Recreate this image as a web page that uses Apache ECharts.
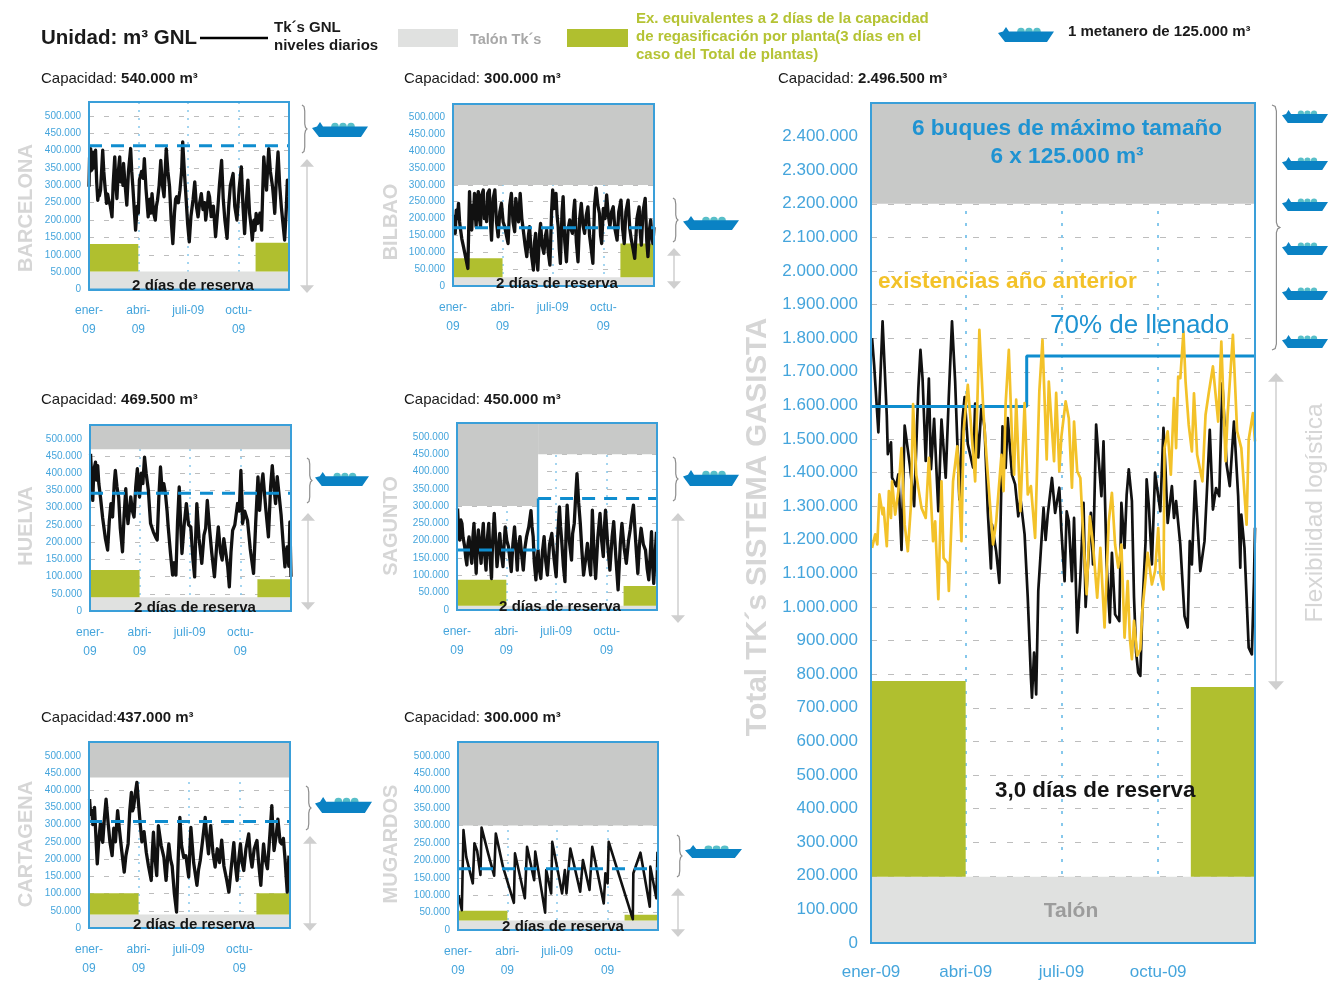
<!DOCTYPE html>
<html><head><meta charset="utf-8">
<style>html,body{margin:0;padding:0;background:#fff}#c{width:1328px;height:982px}</style>
<script src="https://cdn.jsdelivr.net/npm/echarts@6/dist/echarts.min.js"></script>
</head><body><div id="c"></div>
<script>
// All volumes in thousands of m3; x = day of the year 2009
const monthTicks = [0, 90, 181, 273];
const smallMonthLabels = ['ener-\n09', 'abri-\n09', 'juli-09', 'octu-\n09'];
const bigMonthLabels = ['ener-09', 'abri-09', 'juli-09', 'octu-09'];

const barcelonaLevels = [[0,296],[1,380],[2,340],[3,406],[4,350],[5,344],[7,395],[9,350],[12,401],[14,310],[16,257],[18,285],[19,270],[21,286],[23,340],[25,401],[27,340],[29,300],[32,248],[34,275],[36,257],[39,240],[42,209],[44,300],[47,382],[49,300],[51,262],[53,330],[56,382],[58,310],[60,334],[62,300],[63,363],[66,300],[69,243],[72,340],[76,406],[78,340],[80,296],[83,220],[85,171],[88,240],[90,220],[92,315],[96,340],[99,320],[101,377],[104,290],[108,209],[111,260],[113,220],[115,276],[118,220],[121,200],[123,240],[125,257],[128,300],[131,372],[134,300],[137,267],[139,340],[141,406],[144,340],[147,296],[150,200],[153,132],[156,220],[158,260],[160,267],[163,250],[166,286],[169,340],[171,425],[174,340],[177,267],[180,190],[183,137],[186,210],[190,260],[193,310],[196,240],[199,209],[202,250],[205,276],[208,230],[211,250],[213,200],[216,240],[218,280],[220,267],[223,210],[227,240],[231,152],[235,230],[238,300],[242,372],[245,260],[248,200],[252,147],[255,240],[258,300],[263,334],[266,240],[270,200],[274,290],[278,353],[281,240],[284,161],[287,250],[290,315],[293,220],[296,180],[298,142],[301,200],[303,170],[305,219],[308,190],[312,220],[315,171],[317,280],[319,382],[321,340],[324,286],[326,350],[328,406],[331,340],[335,296],[337,260],[339,219],[342,320],[345,396],[348,300],[351,238],[354,190],[357,142],[360,230],[362,315],[363,280],[364,267]];
const bilbaoLevels = [[1,212],[2,180],[4,156],[6,225],[8,200],[10,245],[12,190],[13,176],[16,140],[19,117],[23,85],[27,52],[30,280],[32,190],[34,166],[36,240],[37,200],[39,275],[41,200],[42,176],[44,260],[46,280],[48,200],[50,176],[52,270],[55,285],[57,200],[59,230],[61,191],[63,275],[66,285],[68,190],[70,136],[73,260],[76,285],[79,190],[82,146],[85,220],[88,245],[91,190],[94,176],[97,150],[100,126],[103,240],[106,275],[109,190],[112,161],[114,260],[116,255],[119,190],[122,275],[125,200],[128,161],[131,120],[134,87],[137,150],[139,176],[142,100],[146,47],[148,130],[150,156],[152,80],[154,47],[157,150],[159,186],[162,120],[165,97],[168,150],[170,166],[173,100],[176,62],[179,220],[181,285],[184,230],[187,275],[189,210],[191,176],[193,110],[195,67],[198,220],[200,265],[203,130],[206,72],[209,170],[212,196],[214,170],[217,156],[219,220],[221,255],[224,130],[227,72],[230,200],[233,245],[236,180],[239,156],[242,210],[245,235],[248,150],[251,110],[254,67],[257,240],[260,290],[263,240],[266,215],[268,150],[270,126],[273,230],[276,200],[279,270],[282,210],[285,176],[288,220],[291,235],[294,170],[298,136],[301,220],[305,255],[308,170],[311,126],[314,220],[318,255],[321,170],[324,136],[327,110],[330,82],[334,200],[338,235],[340,160],[342,121],[345,220],[349,260],[352,130],[354,87],[357,170],[359,196],[361,150],[363,126],[365,175]];
const huelvaLevels = [[1,456],[3,390],[5,321],[7,410],[10,432],[12,380],[14,422],[16,370],[19,331],[23,270],[28,210],[32,177],[35,260],[38,312],[40,280],[41,273],[44,370],[46,408],[49,360],[52,331],[55,240],[59,172],[62,280],[65,355],[67,290],[69,254],[72,300],[74,331],[77,290],[80,273],[83,360],[86,413],[88,360],[90,331],[93,400],[96,370],[99,447],[102,400],[106,350],[108,300],[110,254],[115,230],[119,215],[122,206],[125,330],[128,418],[131,350],[134,370],[137,341],[140,290],[142,244],[146,170],[150,104],[153,140],[156,104],[159,260],[162,360],[165,240],[167,167],[171,250],[175,312],[179,250],[183,244],[187,150],[190,99],[192,220],[194,312],[198,210],[203,138],[207,220],[210,240],[213,321],[217,240],[221,170],[226,99],[230,190],[233,244],[237,170],[240,148],[243,210],[246,215],[250,130],[253,70],[256,170],[259,234],[263,250],[268,312],[271,290],[274,408],[276,320],[277,254],[281,290],[286,263],[291,180],[297,109],[301,260],[305,389],[307,330],[308,292],[311,360],[314,398],[319,300],[324,215],[328,360],[331,422],[334,360],[337,312],[340,390],[343,393],[347,280],[351,190],[354,128],[356,170],[358,186],[361,130],[363,259],[365,99]];
const saguntoLevels = [[1,293],[3,230],[5,202],[7,260],[9,250],[11,210],[14,183],[16,150],[18,130],[20,190],[22,211],[25,160],[27,135],[29,210],[31,250],[33,170],[35,106],[37,190],[39,231],[42,170],[44,135],[46,210],[48,250],[50,170],[53,115],[55,200],[58,250],[60,160],[63,91],[65,200],[68,279],[71,190],[73,125],[76,180],[78,221],[81,160],[84,125],[86,190],[88,240],[91,200],[94,183],[97,140],[99,111],[102,190],[105,240],[108,170],[110,115],[112,180],[115,212],[118,160],[121,115],[124,180],[127,212],[131,240],[135,287],[137,240],[139,212],[141,140],[144,87],[146,140],[148,173],[150,120],[153,91],[156,170],[159,212],[162,140],[165,101],[169,190],[173,221],[177,150],[181,96],[184,220],[187,298],[189,240],[191,202],[194,130],[197,82],[199,220],[201,303],[205,200],[209,144],[211,220],[214,250],[217,340],[219,394],[222,310],[225,250],[228,170],[231,101],[235,150],[238,192],[241,140],[244,101],[246,220],[247,288],[250,170],[253,91],[257,210],[261,279],[264,200],[267,154],[269,240],[271,288],[275,190],[279,115],[283,210],[286,255],[290,150],[294,58],[298,190],[301,250],[305,180],[309,135],[313,200],[316,231],[319,270],[322,303],[326,200],[330,106],[333,190],[336,236],[340,190],[344,173],[347,120],[350,87],[353,170],[355,226],[357,130],[359,77],[362,170],[364,226]];
const cartagenaLevels = [[1,374],[3,330],[5,341],[7,300],[10,350],[13,250],[15,186],[18,260],[21,307],[23,260],[25,249],[28,320],[31,374],[35,300],[38,250],[42,210],[45,290],[48,250],[52,341],[55,290],[59,230],[64,162],[67,210],[71,244],[74,340],[77,394],[79,340],[81,350],[84,390],[87,423],[90,360],[93,302],[96,250],[100,280],[104,220],[108,180],[113,138],[115,220],[117,278],[120,200],[123,152],[125,240],[126,297],[131,240],[136,205],[138,170],[140,138],[143,210],[145,244],[148,200],[151,180],[155,100],[159,46],[162,200],[165,321],[168,240],[172,205],[176,210],[181,148],[183,220],[185,292],[190,190],[196,124],[199,170],[202,196],[206,250],[211,321],[214,260],[217,215],[219,260],[221,297],[225,220],[229,177],[233,230],[237,190],[241,255],[245,180],[250,140],[254,104],[258,170],[263,248],[266,180],[269,138],[272,200],[275,244],[278,190],[281,167],[285,230],[290,273],[293,210],[296,177],[300,230],[305,254],[308,190],[312,124],[315,200],[317,244],[320,200],[324,172],[328,260],[332,355],[334,280],[336,225],[340,270],[343,316],[347,250],[350,244],[353,260],[356,200],[358,150],[360,104],[362,170],[363,210]];
const mugardosLevels = [[1,100],[7,57],[10,287],[15,210],[27,134],[30,249],[35,227],[41,158],[43,294],[55,220],[66,156],[69,277],[82,182],[102,78],[104,220],[122,91],[126,239],[139,143],[141,225],[159,50],[161,172],[170,105],[172,253],[190,105],[195,172],[198,105],[205,234],[223,110],[228,201],[240,115],[245,239],[266,76],[269,163],[273,134],[275,253],[319,31],[320,163],[333,222],[350,67],[351,182],[362,91],[364,225]];
const totalLevels = [[1,1800],[3,1720],[7,1520],[9,1690],[11,1850],[15,1570],[16,1455],[19,1490],[20,1385],[24,1360],[26,1395],[29,1170],[32,1540],[37,1420],[41,1300],[45,1650],[47,1765],[49,1680],[52,1435],[55,1680],[57,1410],[60,1560],[64,1285],[67,1558],[71,1385],[74,1630],[77,1850],[80,1670],[84,1320],[87,1560],[89,1625],[92,1485],[97,1415],[99,1605],[102,1445],[105,1600],[108,1530],[111,1285],[114,1115],[115,1245],[119,1165],[120,1167],[122,1072],[125,1538],[128,1414],[130,1562],[134,1394],[137,1365],[140,1270],[142,1325],[146,1216],[149,1028],[152,790],[153,730],[155,864],[157,740],[159,1048],[161,1147],[164,1295],[166,1200],[168,1275],[172,1384],[175,1280],[179,1355],[181,1226],[184,1077],[186,1285],[188,1255],[191,1077],[193,1265],[196,924],[199,1087],[202,1310],[204,1000],[209,1280],[211,1127],[214,1543],[219,1330],[221,1493],[224,1127],[227,954],[229,1161],[232,978],[236,958],[238,1310],[241,1176],[243,1334],[245,1410],[248,1315],[250,1028],[252,865],[254,805],[256,795],[258,1000],[261,1196],[262,1380],[264,1305],[267,1127],[270,1400],[275,1285],[278,1533],[280,1404],[282,1250],[286,1360],[288,1265],[290,1315],[294,1186],[298,973],[301,939],[303,1196],[305,1127],[308,1375],[313,1107],[317,1196],[319,1325],[322,1527],[325,1290],[328,1354],[331,1330],[334,1666],[338,1424],[341,1360],[345,1552],[349,1330],[351,1117],[352,1275],[355,1176],[359,879],[362,859],[364,1077],[365,1236]];
const previousYearLevels = [[1,1176],[4,1216],[6,1186],[8,1335],[11,1276],[12,1295],[15,1181],[17,1345],[19,1265],[20,1374],[23,1275],[26,1345],[29,1473],[32,1245],[35,1166],[38,1305],[40,1604],[43,1394],[48,1295],[52,1265],[55,1444],[59,1196],[61,1255],[64,1023],[67,1374],[69,1146],[73,1130],[74,1048],[78,1374],[82,1478],[86,1196],[88,1523],[92,1661],[95,1543],[99,1374],[103,1825],[107,1572],[111,1394],[116,1186],[119,1255],[124,1453],[126,1345],[128,1607],[131,1765],[134,1503],[136,1394],[138,1617],[142,1285],[146,1607],[149,1335],[152,1360],[156,1206],[160,1642],[163,1795],[167,1439],[169,1671],[174,1434],[176,1637],[179,1404],[181,1508],[185,1612],[188,1562],[191,1355],[193,1552],[196,1404],[199,1384],[202,1196],[205,1038],[208,1270],[211,1186],[215,1028],[218,1176],[222,939],[226,1255],[229,1340],[232,1186],[235,1117],[238,1186],[241,909],[244,1077],[246,909],[248,845],[250,959],[253,855],[256,874],[258,993],[261,1087],[263,1161],[267,1067],[270,1107],[273,1235],[275,1097],[278,1052],[279,1473],[282,1523],[285,1394],[288,1622],[290,1473],[292,1686],[294,1681],[297,1820],[299,1671],[302,1542],[305,1463],[307,1636],[310,1453],[315,1374],[318,1572],[321,1636],[325,1716],[330,1552],[333,1790],[337,1434],[339,1572],[344,1810],[348,1523],[352,1473],[357,1245],[359,1498],[363,1577],[365,1493]];

// [day, volume]: 70 % filling reference
const barcelonaFill = [[0,414],[365,414]];
const bilbaoFill = [[0,173],[365,173]];
const huelvaFill = [[0,342],[365,342]];
const saguntoFill = [[0,173],[148,173]];
const saguntoFillLater = [[148,322],[365,322]];
const saguntoFillStep = [[148,173],[148,322]];
const cartagenaFill = [[0,309],[365,309]];
const mugardosFill = [[0,176],[365,176]];
const totalFill = [[0,1597],[148,1597],[148,1747],[365,1747]];

// [fromDay, toDay, lowerVolume, upperVolume]
const barcelonaBands = [];
const bilbaoBands = [[0,365,300,540]];
const huelvaBands = [[0,365,469.5,540]];
const saguntoBands = [[0,148,300,540],[148,365,450,540]];
const cartagenaBands = [[0,365,437,540]];
const mugardosBands = [[0,365,300,540]];
const totalBands = [[0,365,2200,2500]];

const barcelonaHeel = 52, bilbaoHeel = 26, huelvaHeel = 40, saguntoHeel = 12, cartagenaHeel = 39, mugardosHeel = 27, totalHeel = 197;
const greenFromDay = 304, greenToDay = 90;
// [winter start top, winter end top]
const barcelonaReserve = [131,135], bilbaoReserve = [82,126], huelvaReserve = [119,92], saguntoReserve = [87,69], cartagenaReserve = [101,101], mugardosReserve = [55,44], totalReserve = [780,762];

const BLUE='#3a9fd9', LABEL='#45a5dc', GRID='#bdbdbd', VGRID='#86c8ec', BAND='#c8c9c8', HEEL='#e0e1e0', GREEN='#b0bf2f', LINEBLUE='#0f8dcf', YELLOW='#f3c229', FONT='"Liberation Sans",Arial,sans-serif';

const plants = [
 {title:['Capacidad: ','540.000 m³'],tx:41,ty:77,name:'BARCELONA',nx:24,ny:208,rect:[89,102,200,187.5],levels:barcelonaLevels,fill:[barcelonaFill],bands:barcelonaBands,heel:barcelonaHeel,reserve:barcelonaReserve,rx:193,ry:284,ship:[312,122,56,15],brace:[302,105,153],arrow:[307,159,293],lw:3.3},
 {title:['Capacidad: ','300.000 m³'],tx:404,ty:77,name:'BILBAO',nx:389,ny:222,rect:[453,104,201,182],levels:bilbaoLevels,fill:[bilbaoFill],bands:bilbaoBands,heel:bilbaoHeel,reserve:bilbaoReserve,rx:557,ry:282,ship:[683,216,56,14],brace:[673,198,242],arrow:[674,248,289],lw:3.3},
 {title:['Capacidad: ','469.500 m³'],tx:41,ty:398,name:'HUELVA',nx:24,ny:526,rect:[90,425,201,186],levels:huelvaLevels,fill:[huelvaFill],bands:huelvaBands,heel:huelvaHeel,reserve:huelvaReserve,rx:195,ry:606,ship:[315,472,54,14],brace:[307,458,503],arrow:[308,513,610],lw:3.3},
 {title:['Capacidad: ','450.000 m³'],tx:404,ty:398,name:'SAGUNTO',nx:389,ny:526,rect:[457,423,200,187],levels:saguntoLevels,fill:[saguntoFill,saguntoFillLater],step:saguntoFillStep,bands:saguntoBands,heel:saguntoHeel,reserve:saguntoReserve,rx:560,ry:605,ship:[683,470,56,16],brace:[673,457,501],arrow:[678,513,623],lw:3.3},
 {title:['Capacidad:','437.000 m³'],tx:41,ty:716,name:'CARTAGENA',nx:24,ny:844,rect:[89,742,201,186],levels:cartagenaLevels,fill:[cartagenaFill],bands:cartagenaBands,heel:cartagenaHeel,reserve:cartagenaReserve,rx:194,ry:923,ship:[315,797,57,16],brace:[306,786,830],arrow:[310,836,931],lw:3.3},
 {title:['Capacidad: ','300.000 m³'],tx:404,ty:716,name:'MUGARDOS',nx:389,ny:844,rect:[458,742,200,188],levels:mugardosLevels,fill:[mugardosFill],bands:mugardosBands,heel:mugardosHeel,reserve:mugardosReserve,rx:563,ry:925,ship:[685,845,57,13],brace:[677,835,877],arrow:[678,888,937],lw:2.6}
];

const grid=[],xAxis=[],yAxis=[],series=[],elements=[];
const area=(x0,x1,y0,y1,color)=>[{coord:[x0,y0],itemStyle:{color,opacity:1}},{coord:[x1,y1]}];

function addText(x,y,text,o){elements.push({type:'text',x:o.rotation?x+2:x,y:o.rotation?y:y+1.5,rotation:o.rotation||0,z:100,silent:true,style:Object.assign({text,fontFamily:FONT,fontSize:14,fill:'#1a1a1a',align:'left',verticalAlign:'middle'},o.style)});}
function addShip(x,y,w,h){
 const sx=w/56,sy=h/15;
 const c='#0a82c4',d='#58bfc9';
 elements.push({type:'group',x,y,scaleX:sx,scaleY:sy,z:100,silent:true,children:[
  {type:'circle',z:100,shape:{cx:23,cy:4.5,r:3.8},style:{fill:d}},
  {type:'circle',z:100,shape:{cx:31,cy:4.5,r:3.8},style:{fill:d}},
  {type:'circle',z:100,shape:{cx:39,cy:4.5,r:3.8},style:{fill:d}},
  {type:'polygon',z:101,shape:{points:[[0,6],[5,4.5],[8,0],[11,4.5],[56,4.5],[49,15],[7,15]]},style:{fill:c}}
 ]});
}
function addBrace(x,y0,y1,w){
 w=w||5;const m=(y0+y1)/2,g='#8d8d8d';
 elements.push({type:'polyline',z:100,silent:true,shape:{points:[[x,y0],[x+w*.4,y0+1.5],[x+w*.55,y0+6],[x+w*.55,m-5],[x+w*.7,m-1.5],[x+w,m],[x+w*.7,m+1.5],[x+w*.55,m+5],[x+w*.55,y1-6],[x+w*.4,y1-1.5],[x,y1]]},style:{stroke:g,lineWidth:1.2,fill:'none'}});
}
function addArrow(x,y0,y1,s){
 s=s||7;const g='#cfcfcf';
 elements.push({type:'line',z:100,silent:true,shape:{x1:x,y1:y0+s,x2:x,y2:y1-s},style:{stroke:g,lineWidth:1.5}});
 elements.push({type:'polygon',z:100,silent:true,shape:{points:[[x,y0],[x-s,y0+s*1.1],[x+s,y0+s*1.1]]},style:{fill:g}});
 elements.push({type:'polygon',z:100,silent:true,shape:{points:[[x,y1],[x-s,y1-s*1.1],[x+s,y1-s*1.1]]},style:{fill:g}});
}
function addAxes(rect,max,interval,labels,o){
 grid.push({left:rect[0],top:rect[1],width:rect[2],height:rect[3],show:false,containLabel:false});
 const i=grid.length-1;
 xAxis.push({type:'value',gridIndex:i,min:0,max:365,
  axisLine:{show:true,onZero:false,lineStyle:{color:BLUE,width:2}},
  axisTick:{show:true,inside:true,length:o.tick,customValues:monthTicks,lineStyle:{color:BLUE,width:1.5}},
  splitLine:{show:true,lineStyle:{color:VGRID,type:[o.dotLen,o.dot],width:o.dotW}},
  axisLabel:{customValues:monthTicks,color:LABEL,fontFamily:FONT,fontSize:o.xFont,lineHeight:o.xLH,margin:o.xMargin,formatter:(v)=>labels[monthTicks.indexOf(v)]||''}});
 yAxis.push({type:'value',gridIndex:i,min:0,max,interval,
  axisLine:{show:false},axisTick:{show:false},
  splitLine:{show:true,lineStyle:{color:GRID,type:[o.dash,o.gap],width:1}},
  axisLabel:{showMaxLabel:false,color:LABEL,fontFamily:FONT,fontSize:o.yFont,margin:o.yMargin,formatter:o.yFmt}});
 elements.push({type:'rect',z:99,silent:true,shape:{x:rect[0],y:rect[1],width:rect[2],height:rect[3]},style:{fill:'none',stroke:BLUE,lineWidth:2}});
 return i;
}
const smallFmt=v=>v===0?'0':v+'.000';
const bigFmt=v=>{if(v===0)return '0';if(v<1000)return v+'.000';const r=v%1000;return Math.floor(v/1000)+'.'+String(r).padStart(3,'0')+'.000';};
const capRich={a:{fontFamily:FONT,fontSize:15,fill:'#1a1a1a'},b:{fontFamily:FONT,fontSize:15,fontWeight:'bold',fill:'#1a1a1a'}};

plants.forEach(p=>{
 const i=addAxes(p.rect,540,50,smallMonthLabels,{tick:3,dot:6,dotLen:2,dotW:1.5,xFont:12,xLH:19,xMargin:12,yFont:10,yMargin:8,yFmt:smallFmt,dash:5,gap:10});
 const areas=[];
 p.bands.forEach(b=>areas.push(area(b[0],b[1],b[2],b[3],BAND)));
 areas.push(area(0,365,0,p.heel,HEEL));
 areas.push(area(0,greenToDay,p.heel,p.reserve[0],GREEN));
 areas.push(area(greenFromDay,365,p.heel,p.reserve[1],GREEN));
 series.push({type:'line',name:p.name,xAxisIndex:i,yAxisIndex:i,data:p.levels,showSymbol:false,z:3,lineStyle:{color:'#111',width:p.lw,join:'round'},markArea:{silent:true,data:areas}});
 p.fill.forEach(f=>series.push({type:'line',xAxisIndex:i,yAxisIndex:i,data:f,showSymbol:false,z:4,lineStyle:{color:LINEBLUE,width:3,type:[13,9]}}));
 if(p.step)series.push({type:'line',xAxisIndex:i,yAxisIndex:i,data:p.step,showSymbol:false,z:4,lineStyle:{color:LINEBLUE,width:2.5}});
 addText(p.tx,p.ty,'{a|'+p.title[0]+'}{b|'+p.title[1]+'}',{style:{rich:capRich}});
 addText(p.nx,p.ny,p.name,{rotation:Math.PI/2,style:{align:'center',fontWeight:'bold',fontSize:20,fill:'#d6d6d6'}});
 addText(p.rx,p.ry,'2 días de reserva',{style:{align:'center',fontWeight:'bold',fontSize:15,fill:'#151515'}});
 addShip.apply(null,p.ship);
 addBrace(p.brace[0],p.brace[1],p.brace[2]);
 addArrow(p.arrow[0],p.arrow[1],p.arrow[2]);
});

// Total system
const tRect=[871,103,384,840];
const t=addAxes(tRect,2500,100,bigMonthLabels,{tick:4,dot:9,dotLen:3,dotW:2,xFont:17,xLH:20,xMargin:19,yFont:17,yMargin:13,yFmt:bigFmt,dash:6,gap:11});
const tAreas=[];
totalBands.forEach(b=>tAreas.push(area(b[0],b[1],b[2],b[3],BAND)));
tAreas.push(area(0,365,0,totalHeel,HEEL));
tAreas.push(area(0,greenToDay,totalHeel,totalReserve[0],GREEN));
tAreas.push(area(greenFromDay,365,totalHeel,totalReserve[1],GREEN));
series.push({type:'line',name:'Total',xAxisIndex:t,yAxisIndex:t,data:totalLevels,showSymbol:false,z:3,lineStyle:{color:'#111',width:2.7,join:'round'},markArea:{silent:true,data:tAreas}});
series.push({type:'line',name:'70% de llenado',xAxisIndex:t,yAxisIndex:t,data:totalFill,showSymbol:false,z:4,lineStyle:{color:LINEBLUE,width:3}});
series.push({type:'line',name:'existencias año anterior',xAxisIndex:t,yAxisIndex:t,data:previousYearLevels,showSymbol:false,z:5,lineStyle:{color:YELLOW,width:2.7,join:'round'}});

addText(778,77,'{a|Capacidad: }{b|2.496.500 m³}',{style:{rich:capRich}});
addText(1067,127,'6 buques de máximo tamaño',{style:{align:'center',fontWeight:'bold',fontSize:22.6,fill:'#1f93d2'}});
addText(1067,155,'6 x 125.000 m³',{style:{align:'center',fontWeight:'bold',fontSize:22.6,fill:'#1f93d2'}});
addText(878,280,'existencias año anterior',{style:{fontWeight:'bold',fontSize:22.6,fill:YELLOW}});
addText(1050,324,'70% de llenado',{style:{fontSize:26,fill:'#1f93d2'}});
addText(995,789,'3,0 días de reserva',{style:{fontWeight:'bold',fontSize:22.4,fill:'#151515'}});
addText(1071,910,'Talón',{style:{align:'center',fontWeight:'bold',fontSize:21,fill:'#9c9c9c'}});
addText(756,527,'Total TK´s SISTEMA GASISTA',{rotation:Math.PI/2,style:{align:'center',fontWeight:'bold',fontSize:29.5,fill:'#d6d6d6'}});
addText(1313,513,'Flexibilidad logística',{rotation:Math.PI/2,style:{align:'center',fontSize:24.5,fill:'#d6d6d6'}});
[110,157,198,242,287,335].forEach(y=>addShip(1282,y,46,13));
addBrace(1272,105,350,8);
addArrow(1276,373,690,8);

// Legend header
addText(41,37,'Unidad: m³ GNL',{style:{fontWeight:'bold',fontSize:20.5}});
elements.push({type:'line',z:100,silent:true,shape:{x1:200,y1:38,x2:268,y2:38},style:{stroke:'#000',lineWidth:2.5}});
addText(274,26,'Tk´s GNL',{style:{fontWeight:'bold',fontSize:15}});
addText(274,44,'niveles diarios',{style:{fontWeight:'bold',fontSize:15}});
elements.push({type:'rect',z:100,silent:true,shape:{x:398,y:29,width:60,height:18},style:{fill:HEEL}});
addText(470,38,'Talón Tk´s',{style:{fontWeight:'bold',fontSize:14.5,fill:'#a8a8a8'}});
elements.push({type:'rect',z:100,silent:true,shape:{x:567,y:29,width:61,height:18},style:{fill:GREEN}});
['Ex. equivalentes a 2 días de la capacidad','de regasificación por planta(3 días en el','caso del Total de plantas)'].forEach((s,i)=>addText(636,17+18*i,s,{style:{fontWeight:'bold',fontSize:15,fill:'#b5c334'}}));
addShip(998,27,56,15);
addText(1068,30,'1 metanero de 125.000 m³',{style:{fontWeight:'bold',fontSize:15}});

const chart=echarts.init(document.getElementById('c'),null,{renderer:'canvas'});
chart.setOption({animation:false,backgroundColor:'#fff',grid,xAxis,yAxis,series,graphic:{elements}});
</script></body></html>
